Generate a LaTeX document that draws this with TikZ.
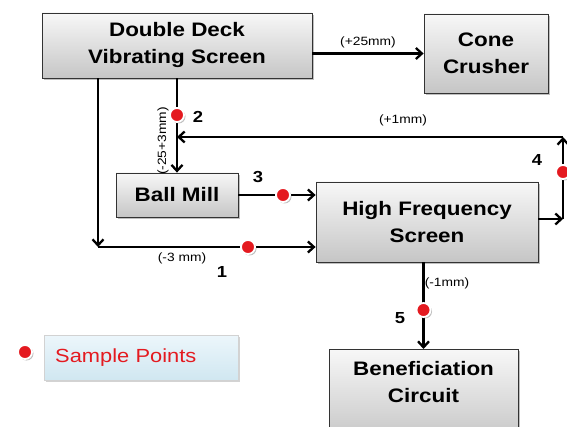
\documentclass[tikz,border=0pt]{standalone}
\usepackage{fontspec}
\setmainfont{Liberation Sans}[FakeStretch=1.15]
\usetikzlibrary{arrows.meta,shadows}
\definecolor{keytop}{RGB}{236,246,251}
\definecolor{keybot}{RGB}{208,231,241}
\definecolor{ptred}{RGB}{228,26,32}

\begin{document}
\begin{tikzpicture}[
  x=1pt, y=-1pt,
  boxtext/.style={font=\fontsize{19.5}{27}\selectfont\bfseries, align=center},
  box/.style={boxtext, draw=black!80, line width=0.8pt, top color=gray!6, bottom color=gray!45, inner sep=0pt,
    drop shadow={shadow xshift=2pt, shadow yshift=-2pt, opacity=0.5}},
  dot/.style={circle, fill=ptred, draw=white, line width=1.8pt, minimum size=14pt, inner sep=0pt,
    drop shadow={shadow xshift=1.5pt, shadow yshift=-1.5pt, opacity=0.5}},
  lbl/.style={font=\fontsize{12}{14}\selectfont},
  num/.style={font=\fontsize{16}{18}\selectfont\bfseries},
  flow/.style={-{Straight Barb[length=6pt,width=11pt]}, line width=2.3pt}
]
  \useasboundingbox (0,0) rectangle (567,427);

  % machines
  \node[box, minimum width=270pt, minimum height=65pt] (dds) at (177,45.5) {Double Deck\\Vibrating Screen};
  \node[box, minimum width=124pt, minimum height=79pt] (cone) at (486,53.5) {Cone\\Crusher};
  \node[box, minimum width=122pt, minimum height=44pt] (ball) at (177,195) {Ball Mill};
  \node[box, minimum width=222pt, minimum height=80pt] (hfs) at (427,222) {High Frequency\\Screen};
  \node[box, minimum width=189pt, minimum height=92pt, anchor=north] (ben) at (423.5,349) {};
  \node[boxtext] (bentext) at (423.5,382) {Beneficiation\\Circuit};

  % points where the lines turn
  \coordinate (c1) at (98,247);
  \coordinate (c2) at (177,137);
  \coordinate (c4b) at (563,219);
  \coordinate (c4t) at (563,137);

  % oversize to crusher
  \draw[flow] (dds.east |- cone.west) -- (cone.west);
  \node[lbl] (l25) at (368,42) {(+25mm)};

  % middle size to ball mill
  \draw[flow] (dds.south) -- (ball.north);
  \node[dot] (s2) at (177,115) {};
  \node[num] (n2) at (198,117) {2};
  \node[lbl, rotate=90] (l2) at (163,141) {(-25+3mm)};

  % ball mill to screen
  \draw[flow] (ball.east) -- (ball.east -| hfs.west);
  \node[dot] (s3) at (283,195) {};
  \node[num] (n3) at (258,177) {3};

  % undersize to screen
  \draw[flow] (dds.south -| c1) -- (c1);
  \draw[flow] (c1) -- (c1 -| hfs.west);
  \node[dot] (s1) at (248,247) {};
  \node[lbl] (l1) at (182,258) {(-3 mm)};
  \node[num] (n1) at (222,272) {1};

  % screen oversize back to mill
  \draw[flow] (hfs.east |- c4b) -- (c4b);
  \draw[flow] (c4b) -- (c4t);
  \draw[flow] (c4t) -- (c2);
  \node[dot] (s4) at (563,172) {};
  \node[num] (n4) at (537,160) {4};
  \node[lbl] (l4) at (403,120) {(+1mm)};

  % screen undersize to beneficiation
  \draw[flow] (hfs.south -| ben.north) -- (ben.north);
  \node[lbl] (l5) at (447,283) {(-1mm)};
  \node[dot] (s5) at (423.5,310) {};
  \node[num] (n5) at (400,318) {5};

  % key
  \node[dot] (s0) at (25,352) {};
  \node[anchor=north west, draw=gray!35, top color=keytop, bottom color=keybot, text=ptred,
    font=\fontsize{19}{22}\selectfont, text width=172pt, inner xsep=11pt, align=left,
    minimum height=45pt, drop shadow={shadow xshift=1.5pt, shadow yshift=-2pt, opacity=0.35}]
    (key) at (44,335) {Sample Points};
\end{tikzpicture}
\end{document}
